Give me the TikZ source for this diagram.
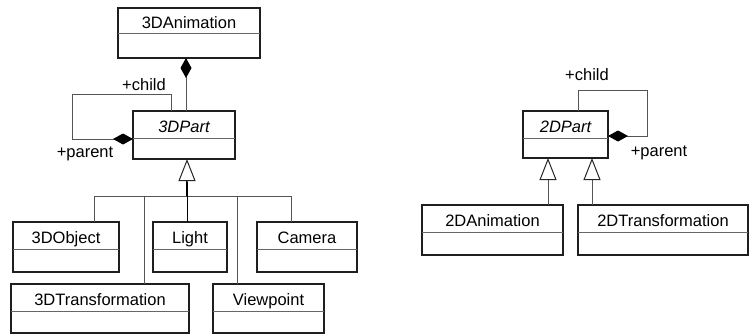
\documentclass[tikz,border=0pt]{standalone}
\usepackage{fontspec}
\setmainfont{Liberation Sans}
\usetikzlibrary{arrows.meta,calc}
\definecolor{boxc}{gray}{0.12}
\definecolor{connc}{gray}{0.33}
\definecolor{divc}{gray}{0.4}
\newcommand\umlclass[8][]{%
  % #2 name, #3 x1, #4 y1, #5 x2, #6 y2, #7 ydiv, #8 text
  \node[classbox, minimum width={#5-#3}, minimum height={#6-#4}] (#2) at ({(#3+#5)/2},{(#4+#6)/2}) {};
  \draw[divline] (#3,#7) -- (#5,#7);
  \node[title, anchor=base, #1] (#2-t) at ({(#3+#5)/2},{#7-5.5}) {#8};
}
\begin{document}
\begin{tikzpicture}[x=1pt,y=-1pt,
  classbox/.style={draw=boxc, line width=1.2pt, inner sep=0pt, outer sep=0pt, fill=white},
  divline/.style={draw=divc, line width=1pt},
  title/.style={font=\fontsize{16.5}{19}\selectfont, inner sep=0pt, text=black},
  lbl/.style={font=\fontsize{16.5}{19}\selectfont, inner sep=0pt, text=black},
  conn/.style={draw=connc, line width=1pt},
  comp/.style={conn, -{Diamond[length=20pt,width=11pt,fill=black,color=black]}},
  gen/.style={conn, -{Triangle[open,length=22pt,width=17pt,fill=white,color=black!85]}},
  ]
\useasboundingbox (0,0) rectangle (749,334);

% ---- 3D hierarchy ----
\umlclass{a3anim}{118}{8}{260}{58}{34}{3DAnimation}
\umlclass[font=\fontsize{16.5}{19}\selectfont\itshape]{a3part}{133}{111}{235}{159}{138}{3DPart}
\umlclass{a3obj}{13}{222}{119}{272}{249}{3DObject}
\umlclass{alight}{153}{222}{227}{272}{249}{Light}
\umlclass{acam}{257}{222}{357}{272}{249}{Camera}
\umlclass{a3trans}{11}{284}{189}{333}{311}{3DTransformation}
\umlclass{aview}{213}{284}{324}{333}{311}{Viewpoint}

% composition 3DAnimation <>- 3DPart
\coordinate (k1) at (186,111);
\draw[comp] (k1 |- a3part.north) -- (k1 |- a3anim.south);

% self association on 3DPart
\coordinate (s1) at (171,95);
\coordinate (s2) at (72,95);
\coordinate (s3) at (72,139);
\draw[comp] (s1 |- a3part.north) -- (s1) -- (s2) -- (s3) -- (s3 -| a3part.west);
\node[lbl] (lchild3) at (144,85) {+child};
\node[lbl] (lparent3) at (85,154) {+parent};

% generalization tree
\coordinate (jbus) at (187,196);
\coordinate (jtri) at (187,181);
\coordinate (b1) at (94,196);
\coordinate (b2) at (144,196);
\coordinate (b4) at (237,196);
\coordinate (b5) at (291,196);
\draw[conn] (b1) -- (b5);
\draw[conn] (b1) -- (b1 |- a3obj.north);
\draw[conn] (b2) -- (b2 |- a3trans.north);
\draw[conn] (b4) -- (b4 |- aview.north);
\draw[conn] (b5) -- (b5 |- acam.north);
\draw[conn, draw=black] (jbus) -- (jbus |- alight.north);
\draw[draw=black, line width=2.2pt] (jbus) -- (jtri);
\draw[gen] (jtri) -- (jtri |- a3part.south);

% ---- 2D hierarchy ----
\umlclass[font=\fontsize{16.5}{19}\selectfont\itshape]{b2part}{523}{111}{608}{158}{138}{2DPart}
\umlclass{b2anim}{422}{205}{563}{255}{232}{2DAnimation}
\umlclass{b2trans}{578}{205}{748}{255}{232}{2DTransformation}

\coordinate (t1) at (578,91);
\coordinate (t2) at (647,91);
\coordinate (t3) at (647,136);
\draw[comp] (t1 |- b2part.north) -- (t1) -- (t2) -- (t3) -- (t3 -| b2part.east);
\node[lbl] (lchild2) at (587,75) {+child};
\node[lbl] (lparent2) at (659,153) {+parent};

\coordinate (g1) at (548,180);
\coordinate (g2) at (592,180);
\draw[gen] (g1 |- b2anim.north) -- (g1 |- b2part.south);
\draw[gen] (g2 |- b2trans.north) -- (g2 |- b2part.south);
\end{tikzpicture}
\end{document}
